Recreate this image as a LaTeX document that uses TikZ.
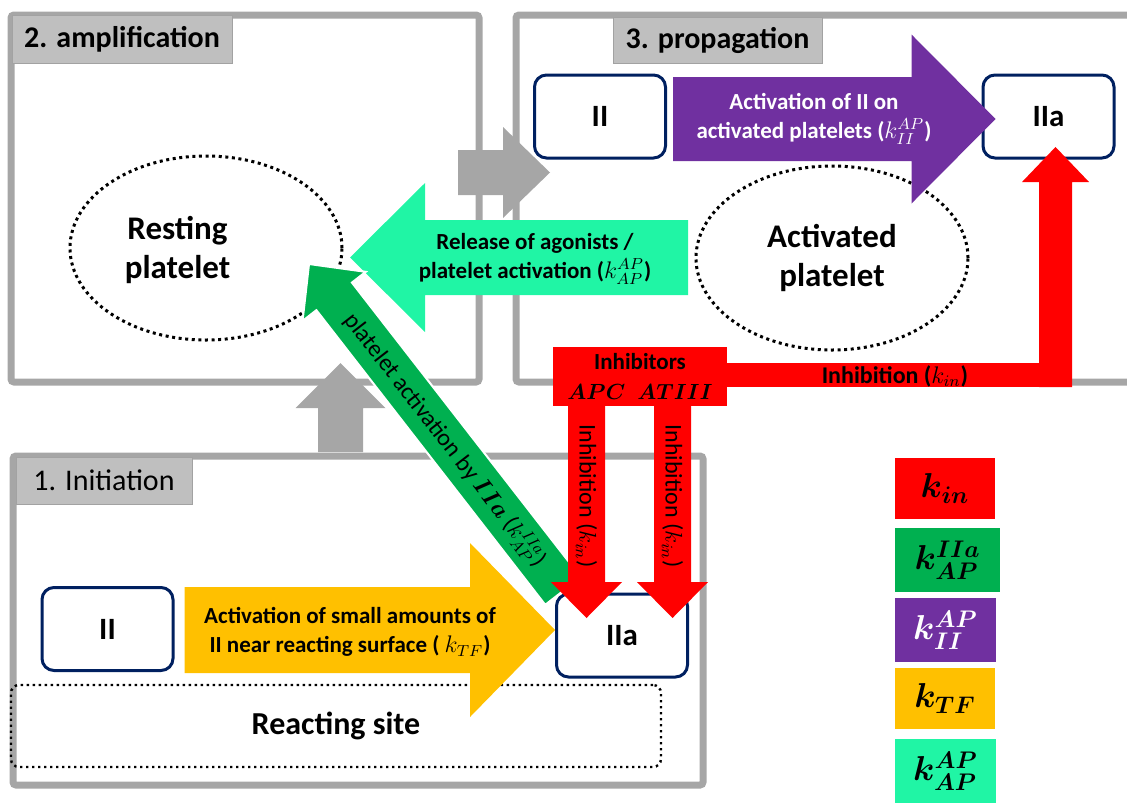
\documentclass[tikz,border=0pt]{standalone}
\usepackage{fontspec}
\setmainfont{Carlito}
\usepackage{amsmath}
\usepackage{bm}
\usetikzlibrary{calc,shapes.geometric}

\definecolor{framegray}{HTML}{A6A6A6}
\definecolor{labelgray}{HTML}{BFBFBF}
\definecolor{boxblue}{HTML}{002060}
\definecolor{kinred}{HTML}{FF0000}
\definecolor{iiagreen}{HTML}{00B050}
\definecolor{iipurple}{HTML}{7030A0}
\definecolor{tfyellow}{HTML}{FFC000}
\definecolor{apteal}{HTML}{20F5A5}

% fat arrow: [options] {from} {to} {half body} {half head} {head length}
\newcommand{\blockarrow}[6][]{%
  \coordinate (headbase) at ($(#3)!#6!(#2)$);
  \path[#1] ($(#2)!#4!90:(#3)$) -- ($(headbase)!#4!90:(#3)$)
    -- ($(headbase)!#5!90:(#3)$) -- (#3)
    -- ($(headbase)!#5!-90:(#3)$) -- ($(headbase)!#4!-90:(#3)$)
    -- ($(#2)!#4!-90:(#3)$) -- cycle;}

\tikzset{
  stage/.style={draw=framegray, line width=3.5pt, rounded corners=1.5pt},
  stagelabel/.style={fill=labelgray, draw=labelgray!85!black, line width=0.5pt,
    inner sep=0pt, font=\fontsize{15}{18}\selectfont\bfseries},
  factor/.style={draw=boxblue, line width=1.5pt, rounded corners=6pt, fill=white,
    minimum width=65.5pt, minimum height=41.5pt, font=\fontsize{15.5}{18}\selectfont\bfseries},
  platelet/.style={ellipse, draw, line width=1.5pt, dash pattern=on 1.5pt off 1.8pt,
    minimum width=136pt, minimum height=92pt, inner sep=0pt, align=center,
    font=\fontsize{16.5}{19.5}\selectfont\bfseries},
  plttext/.style={align=center, font=\fontsize{16.5}{19.5}\selectfont\bfseries},
  arrowtext/.style={align=center, font=\fontsize{11.5}{14.5}\selectfont\bfseries},
  inhtext/.style={font=\fontsize{12}{14}\selectfont},
  rate/.style={minimum width=50.5pt, minimum height=31pt, inner sep=0pt,
    font=\fontsize{17}{20}\selectfont}
}

\begin{document}
\begin{tikzpicture}[x=0.5pt,y=-0.5pt]
\useasboundingbox (0,0) rectangle (1127,803);
\clip (0,0) rectangle (1127,803);

% stages
\draw[stage] (11,15) rectangle (479,382);
\draw[stage] (516,15) rectangle (1140,382);
\draw[stage] (13,456) rectangle (703,785);
\node[stagelabel, minimum width=110pt, minimum height=24pt] (amplabel) at (122,39)
	{2. amplification};
\node[stagelabel, minimum width=104.5pt, minimum height=23pt] (proplabel) at (717.5,40)
	{3. propagation};
\node[stagelabel, minimum width=88pt, minimum height=23.5pt,
	font=\fontsize{15}{18}\selectfont] (initlabel) at (104,480.5)
	{1. Initiation};

% platelets and reacting site
\node[platelet] (restingplt) at (206,248) {};
\node[plttext] (restingtxt) at (177.5,250)
	{Resting\\platelet};
\node[platelet] (activatedplt) at (832,258)
	{Activated\\platelet};
\node[draw, line width=1.2pt, dash pattern=on 1.2pt off 1.8pt, rounded corners=4pt,
	minimum width=325pt, minimum height=41pt,
	font=\fontsize{16}{19}\selectfont\bfseries] (reacting) at (336,726)
	{Reacting site};

% thrombin forms
\node[factor] (iiprop) at (600,116.5) {II};
\node[factor] (iiaprop) at (1048.5,116.5) {IIa};
\node[factor] (iiinit) at (107.5,629) {II};
\node[factor] (iiainit) at (622,635.5) {IIa};

% arrow ends
\coordinate (ampout) at (458,172.5);
\coordinate (propin) at (550,172.5);
\coordinate (initout) at (340.5,452);
\coordinate (ampin) at (340.5,363);
\coordinate (agotail) at (688,257.5);
\coordinate (agohead) at (350,257.5);
\coordinate (iiatail) at (563,591);
\coordinate (iiahead) at (309,264);
\coordinate (propfrom) at ($(iiprop.east)+(6,2.5)$);
\coordinate (propto) at ($(iiaprop.west)+(14,2.5)$);
\coordinate (tffrom) at ($(iiinit.east)+(10,1)$);
\coordinate (tfto) at ($(iiainit.west)+(0,-5.5)$);
\coordinate (apcfrom) at (586.5,400);
\coordinate (apcto) at (586.5,618);
\coordinate (atfrom) at (672.5,400);
\coordinate (atto) at (672.5,618);
\coordinate (kinbend) at (1055.5,387);
\coordinate (kinto) at (1055.5,147);

% block arrows
\blockarrow[fill=framegray]{ampout}{propin}{11.25pt}{22.75pt}{23.5pt}
\blockarrow[fill=framegray]{initout}{ampin}{11.25pt}{22.5pt}{22.5pt}
\blockarrow[fill=apteal]{agotail}{agohead}{18.75pt}{37.25pt}{37.5pt}
\blockarrow[fill=iiagreen, draw=white, line width=1pt]{iiatail}{iiahead}{11.25pt}{20pt}{20.5pt}
\blockarrow[fill=iipurple]{propfrom}{propto}{21pt}{42.25pt}{42pt}
\blockarrow[fill=tfyellow]{tffrom}{tfto}{21.5pt}{43.5pt}{42.5pt}

% inhibitors
\fill[kinred] (720,363) rectangle (1072,387);
\blockarrow[fill=kinred]{kinbend}{kinto}{8.25pt}{16.75pt}{17.5pt}
\blockarrow[fill=kinred]{apcfrom}{apcto}{9.25pt}{17.75pt}{18pt}
\blockarrow[fill=kinred]{atfrom}{atto}{9.25pt}{17.75pt}{18pt}
\node[fill=kinred, minimum width=87pt, minimum height=29.5pt, inner sep=0pt, align=center,
	font=\fontsize{11.5}{14}\selectfont\bfseries] (inhibitors) at (640,376.5)
	{Inhibitors\\[1pt] \fontsize{11}{13}\selectfont$\bm{APC}\;\;\bm{ATIII}$};

% arrow labels
\node[arrowtext, text=white] (propagtxt) at (814,119)
	{Activation of II on\\activated platelets ($k_{II}^{AP}$)};
\node[arrowtext] (agonisttxt) at (535,259)
	{Release of agonists /\\platelet activation ($k_{AP}^{AP}$)};
\node[arrowtext] (tftxt) at (350,632)
	{Activation of small amounts of\\II near reacting surface ( $k_{TF}$)};
\node[inhtext, rotate=-52.2] (iiatxt) at (445,440)
	{platelet activation by $\bm{IIa}$ ($k_{AP}^{IIa}$)};
\node[inhtext, rotate=-90] (apctxt) at (586.5,496)
	{Inhibition ($k_{in}$)};
\node[inhtext, rotate=-90] (attxt) at (672.5,496)
	{Inhibition ($k_{in}$)};
\node[inhtext, font=\fontsize{12}{14}\selectfont\bfseries] (kintxt) at (895,376)
	{Inhibition ($k_{in}$)};

% rate constants
\node[rate, fill=kinred, minimum width=50pt, minimum height=30.5pt] (kin) at (945,488.5)
	{$\bm{k_{in}}$};
\node[rate, fill=iiagreen, minimum width=52.5pt, minimum height=32pt] (kiia) at (947.5,560)
	{$\bm{k_{AP}^{IIa}}$};
\node[rate, fill=iipurple, text=white, minimum height=32pt] (kii) at (945.5,630)
	{$\bm{k_{II}^{AP}}$};
\node[rate, fill=tfyellow, minimum width=50pt, minimum height=30.5pt] (ktf) at (945,698.5)
	{$\bm{k_{TF}}$};
\node[rate, fill=apteal, minimum height=32pt] (kap) at (945.5,771)
	{$\bm{k_{AP}^{AP}}$};
\end{tikzpicture}
\end{document}
